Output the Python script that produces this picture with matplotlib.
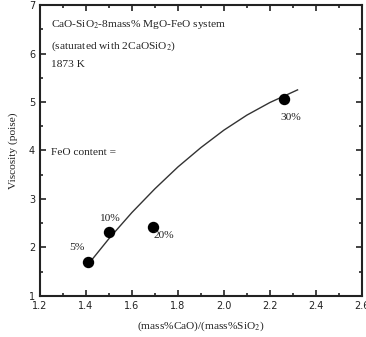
import matplotlib
matplotlib.use('Agg')
import matplotlib.pyplot as plt
from matplotlib.ticker import MultipleLocator

plt.rcParams['mathtext.fontset'] = 'stix'

# measured points: basicity vs viscosity, labelled by FeO content
basicity = [1.41, 1.50, 1.69, 2.26]
viscosity = [1.69, 2.31, 2.43, 5.06]
feo_labels = ['5%', '10%', '20%', '30%']
label_pos = [(1.36, 1.99), (1.50, 2.60), (1.74, 2.24), (2.29, 4.68)]

# fitted trend line
fit_x = [1.42, 1.50, 1.60, 1.70, 1.80, 1.90, 2.00, 2.10, 2.20, 2.32]
fit_y = [1.71, 2.18, 2.72, 3.21, 3.66, 4.06, 4.42, 4.73, 4.99, 5.25]

serif = 'Liberation Serif'
fs = 8.2

fig = plt.figure(figsize=(3.66, 3.37), dpi=100)
ax = fig.add_axes([0.109, 0.122, 0.880, 0.863])

ax.plot(fit_x, fit_y, color='#333333', lw=1.0)
ax.plot(basicity, viscosity, 'o', color='black', markersize=7.2)

for lab, (lx, ly) in zip(feo_labels, label_pos):
    ax.text(lx, ly, lab, fontsize=fs, family=serif, ha='center', va='center', color='#222222')

ax.text(1.25, 6.55, 'CaO-SiO$_2$-8mass% MgO-FeO system', fontsize=fs, family=serif, color='#222222')
ax.text(1.25, 6.1, '(saturated with 2CaOSiO$_2$)', fontsize=fs, family=serif, color='#222222')
ax.text(1.25, 5.72, '1873 K', fontsize=fs, family=serif, color='#222222')
ax.text(1.25, 3.9, 'FeO content =', fontsize=fs, family=serif, color='#222222')

ax.set_xlim(1.2, 2.6)
ax.set_ylim(1, 7)
ax.xaxis.set_major_locator(MultipleLocator(0.2))
ax.xaxis.set_minor_locator(MultipleLocator(0.1))
ax.yaxis.set_major_locator(MultipleLocator(1))
ax.yaxis.set_minor_locator(MultipleLocator(0.5))
ax.xaxis.set_major_formatter(matplotlib.ticker.FormatStrFormatter('%.1f'))
ax.tick_params(which='both', direction='in', top=True, right=True, width=1.2, colors='#222222', labelsize=7)
ax.tick_params(which='major', length=4)
ax.tick_params(which='minor', length=2.5)
for s in ax.spines.values():
    s.set_linewidth(1.5)
    s.set_color('#222222')

ax.set_xlabel('(mass%CaO)/(mass%SiO$_2$)', fontsize=fs, family=serif, color='#222222', labelpad=6)
ax.set_ylabel('Viscosity (poise)', fontsize=fs, family=serif, color='#222222', labelpad=8)

fig.savefig('out.png', dpi=100)
